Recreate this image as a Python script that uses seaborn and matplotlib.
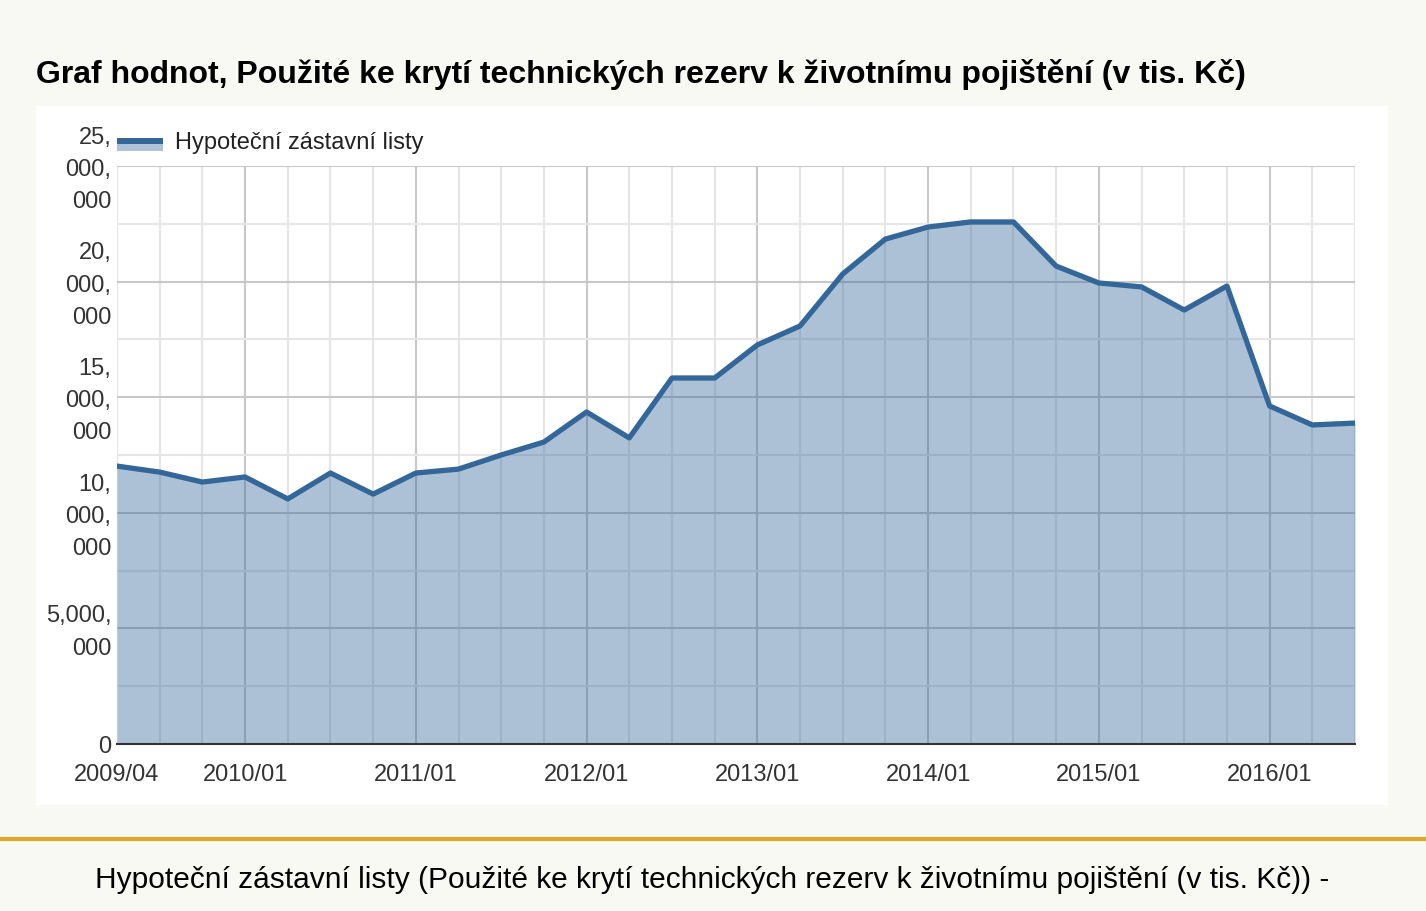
import numpy as np
import pandas as pd
import seaborn as sns
import matplotlib.pyplot as plt
from matplotlib.patches import Rectangle
from matplotlib.lines import Line2D
from matplotlib.transforms import ScaledTranslation

# quarterly values (v tis. Kč), 2009/04 .. 2016/07
quarters = ['2009/04', '2009/07', '2009/10',
            '2010/01', '2010/04', '2010/07', '2010/10',
            '2011/01', '2011/04', '2011/07', '2011/10',
            '2012/01', '2012/04', '2012/07', '2012/10',
            '2013/01', '2013/04', '2013/07', '2013/10',
            '2014/01', '2014/04', '2014/07', '2014/10',
            '2015/01', '2015/04', '2015/07', '2015/10',
            '2016/01', '2016/04', '2016/07']
values = [12020000, 11760000, 11330000,
          11550000, 10600000, 11720000, 10810000,
          11720000, 11890000, 12500000, 13060000,
          14360000, 13240000, 15830000, 15830000,
          17260000, 18080000, 20330000, 21840000,
          22360000, 22580000, 22580000, 20670000,
          19940000, 19770000, 18770000, 19810000,
          14620000, 13800000, 13880000]
tick_labels = ['2009/04', '2010/01', '2011/01', '2012/01',
               '2013/01', '2014/01', '2015/01', '2016/01']
y_ticks = [0, 5000000, 10000000, 15000000, 20000000, 25000000]
y_labels = ['0', '5,000,\n000', '10,\n000,\n000', '15,\n000,\n000',
            '20,\n000,\n000', '25,\n000,\n000']
series_name = 'Hypoteční zástavní listy'
title = 'Graf hodnot, Použité ke krytí technických rezerv k životnímu pojištění (v tis. Kč)'
caption = 'Hypoteční zástavní listy (Použité ke krytí technických rezerv k životnímu pojištění (v tis. Kč)) -'

df = pd.DataFrame({'q': quarters, 'v': values})
df['i'] = np.arange(len(df))

sns.set_theme(style='white')
plt.rcParams['font.family'] = ['Liberation Sans', 'DejaVu Sans']

W, H = 1426, 912
fig = plt.figure(figsize=(W / 100, H / 100), dpi=100, facecolor='#f9f9f4')

# white panel behind the chart
fig.add_artist(Rectangle((36 / W, 1 - 806 / H), (1388 - 36) / W, (806 - 107) / H,
                         transform=fig.transFigure, facecolor='white', edgecolor='none', zorder=0))
# gold separator
fig.add_artist(Line2D([0, 1], [1 - 840 / H, 1 - 840 / H], transform=fig.transFigure,
                      color='#dca826', lw=3))

ax = fig.add_axes([117 / W, 1 - 745 / H, (1355 - 117) / W, (745 - 167) / H])
ax.set_facecolor('none')

# grid
n = len(df)
year_idx = [quarters.index(t) for t in tick_labels[1:]]
for i in range(n):
    ax.axvline(i, color='#c8c8c8' if i in year_idx else '#e6e6e6', lw=1.5, zorder=1)
for yv in np.arange(2500000, 25000001, 2500000):
    ax.axhline(yv, color='#c8c8c8' if yv % 5000000 == 0 else '#e6e6e6', lw=1.5, zorder=1)

ax.fill_between(df['i'], df['v'], color='#336699', alpha=0.4, lw=0, zorder=2)
sns.lineplot(data=df, x='i', y='v', ax=ax, color='#336699', lw=3.8, zorder=3,
             legend=False)

ax.set_xlim(0, n - 1)
ax.set_ylim(0, 25000000)
ax.set_xticks([quarters.index(t) for t in tick_labels])
ax.set_xticklabels(tick_labels)
ax.set_yticks(y_ticks)
ax.set_yticklabels(y_labels, linespacing=1.6)
ax.tick_params(axis='x', length=0, pad=13.5, labelsize=17, labelcolor='#333333')
ax.tick_params(axis='y', length=0, pad=4, labelsize=17, labelcolor='#333333')
# nudge the wrapped labels up a bit
for lab in ax.get_yticklabels():
    if '\n' in lab.get_text():
        lab.set_transform(lab.get_transform() + ScaledTranslation(0, 0.045, fig.dpi_scale_trans))
ax.set_xlabel('')
ax.set_ylabel('')
for s in ['top', 'right', 'left']:
    ax.spines[s].set_visible(False)
ax.spines['bottom'].set_color('#333333')
ax.spines['bottom'].set_linewidth(1.5)
ax.spines['bottom'].set_zorder(4)

# legend swatch
fig.add_artist(Rectangle((117 / W, 1 - 152 / H), 46 / W, 8 / H, transform=fig.transFigure,
                         facecolor='#adc2d6', edgecolor='none'))
fig.add_artist(Rectangle((117 / W, 1 - 145 / H), 46 / W, 6 / H, transform=fig.transFigure,
                         facecolor='#336699', edgecolor='none'))
fig.text(175 / W, 1 - 143 / H, series_name, fontsize=17, color='#222222', va='center')

fig.text(36 / W, 1 - 75 / H, title, fontsize=23, fontweight='bold', color='black', va='center')
fig.text(712 / W, 1 - 880 / H, caption, fontsize=21.5, color='black', ha='center', va='center')

fig.savefig('out.png', dpi=100, facecolor=fig.get_facecolor())
